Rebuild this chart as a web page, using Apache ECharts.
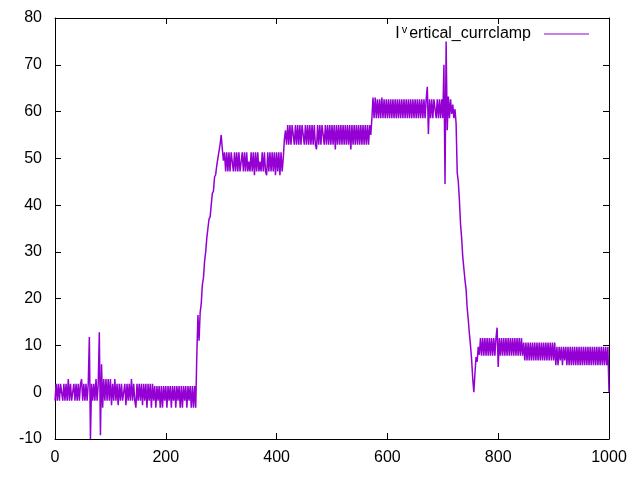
<!DOCTYPE html>
<html>
<head>
<meta charset="utf-8">
<script src="https://cdn.jsdelivr.net/npm/echarts@6/dist/echarts.min.js"></script>
<style>
html,body{margin:0;padding:0;background:#fff;}
#chart{width:640px;height:480px;}
</style>
</head>
<body>
<div id="chart"></div>
<script>
// Sample spacing along x (each value below is one sample)
const sampleStep = 2;
const seriesName = 'I^vertical_currclamp';
const xTicks = [0, 200, 400, 600, 800, 1000];
const yTicks = [-10, 0, 10, 20, 30, 40, 50, 60, 70, 80];

// x = 0 .. 254
const baseline = [
  -1.8, 1.8, -1.8, 1.8, -1.8, 1.8, 1.8, -1.8, 1.8, -1.8,
  1.8, -1.8, 2.8, -1.8, 1.8, -1.8, -1.8, 1.8, -1.8, 1.8,
  -1.8, 1.8, -1.8, 1.8, 2.8, -1.8, 1.8, -1.8, 1.8, -1.8,
  1.8, 11.8, -10, 1.8, -1.8, 1.8, -1.8, 2.8, -1.8, 1.8,
  12.8, -9.2, 6, -3.3, 2.8, -1.8, 2.8, -1.8, 2.8, -1.8,
  2.8, -2.8, 1.8, -1.8, 2.8, -1.8, 1.8, -2.8, 1.8, -1.8,
  1.8, -1.8, -1.8, 1.8, -2.8, 1.8, -1.8, 1.8, -1.8, 2.8,
  -1.8, 1.8, -1.8, -3.3, 1.8, -1.8, 1.8, -1.8, 1.8, -2.8,
  1.8, -1.8, 1.8, -3.3, 1.8, -1.8, 1.8, -3.3, 1.8, -1.8,
  1.3, -3.3, 1.3, -1.8, 1.3, -3.3, 1.3, -3.3, 1.3, -1.8,
  1.3, -3.3, 1.3, -1.8, 1.3, -3.3, 1.3, -1.8, 1.3, -3.3,
  1.3, -1.8, 1.3, -3.3, 1.3, -3.3, 1.3, -1.8, 1.3, -3.3,
  1.3, -1.8, 1.3, -3.3, 1.3, -3.3, 1.3, -3.3
];
// x = 256 .. 304
const rise = [
  8, 16.5, 11, 17, 19, 23, 24.5, 28, 30, 33,
  35, 37, 37.5, 40, 42.5, 43, 46, 46.5, 48.5, 50,
  51.5, 53, 55, 52, 49.5
];
// x = 306 .. 410
const plateau1 = [
  51.3, 47.2, 51.3, 47.2, 51.3, 47.2, 51.3, 51.3, 47.2, 51.3,
  47.2, 51.3, 47.2, 51.3, 47.2, 47.2, 51.3, 47.2, 51.3, 47.2,
  51.3, 47.2, 49.3, 47.2, 51.3, 47.2, 51.3, 46.4, 51.3, 47.2,
  51.3, 47.2, 49.3, 47.2, 51.3, 47.2, 51.3, 47.2, 46.4, 51.3,
  47.2, 51.3, 47.2, 51.3, 47.2, 51.3, 46.4, 51.3, 47.2, 51.3,
  46.4, 51.3, 47.2
];
// x = 412 .. 570
const plateau2 = [
  50, 54, 56, 52.9, 57.1, 52.9, 57.1, 52.9, 57.1, 55,
  52.9, 57.1, 52.9, 57.1, 52.9, 57.1, 52.9, 57.1, 57.1, 52.9,
  57.1, 52.9, 57.1, 52.9, 57.1, 52.9, 57.1, 52.9, 57.1, 52.9,
  51.9, 57.1, 52.9, 57.1, 52.9, 57.1, 55, 52.9, 57.1, 52.9,
  57.1, 52.9, 57.1, 52.9, 57.1, 52.9, 57.1, 51.9, 57.1, 52.9,
  57.1, 52.9, 57.1, 52.9, 57.1, 52.9, 57.1, 52.9, 57.1, 52.9,
  57.1, 51.9, 57.1, 52.9, 57.1, 52.9, 57.1, 52.9, 57.1, 52.9,
  57.1, 52.9, 57.1, 52.9, 57.1, 52.9, 57.1, 52.9, 57.1, 55
];
// x = 572 .. 724
const plateau3 = [
  58.5, 63, 58.6, 63, 58.6, 62.6, 58.6, 62.6, 58.6, 63,
  58.6, 62.6, 58.6, 62.6, 58.6, 62.6, 58.6, 62.6, 58.6, 62.6,
  58.6, 62.6, 58.6, 62.6, 58.6, 62.6, 58.6, 62.6, 58.6, 62.6,
  58.6, 62.6, 58.6, 62.6, 58.6, 62.6, 58.6, 62.6, 58.6, 62.6,
  58.6, 62.6, 58.6, 62.6, 58.6, 62.6, 58.6, 62.6, 58.6, 62.6,
  65.3, 55.2, 62.6, 58.6, 62.6, 58.6, 62.6, 60.6, 58.6, 62.6,
  58.6, 62.6, 58.6, 62.6, 58.6, 70, 44.5, 75, 56, 63.2,
  58.6, 62.6, 59.5, 61.5, 58.6, 60.5, 57.5
];
// x = 726 .. 768
const fall = [
  47, 45, 41, 36, 33, 29, 26.5, 24, 22, 18,
  15.5, 12.5, 10, 7, 3, 0, 4, 7.5, 6.5, 9.7,
  8, 11.6
];
// x = 770 .. 1000
const tail = [
  7.8, 11.6, 7.8, 11.6, 7.8, 11.6, 7.8, 11.6, 7.8, 11.6,
  7.8, 11.6, 7.8, 11.6, 13.8, 5.4, 11.6, 7.8, 11.6, 7.8,
  11.6, 7.8, 11.6, 7.8, 11.6, 7.8, 11.6, 7.8, 11.6, 7.8,
  11.6, 7.8, 11.6, 7.8, 11.6, 7.8, 11.6, 7.8, 10.6, 6.8,
  10.6, 6.8, 10.6, 6.8, 10.6, 6.8, 10.6, 6.8, 10.6, 6.8,
  10.6, 6.8, 10.6, 6.8, 10.6, 6.8, 10.6, 6.8, 10.6, 6.8,
  10.6, 6.8, 10.6, 6.8, 10.6, 6.8, 10.6, 5.8, 9.7, 5.8,
  9.7, 6.8, 9.7, 5.8, 9.7, 6.8, 9.7, 5.8, 9.7, 5.8,
  9.7, 5.8, 9.7, 5.8, 9.7, 5.8, 9.7, 5.8, 9.7, 5.8,
  9.7, 5.8, 9.7, 5.8, 9.7, 5.8, 9.7, 5.8, 9.7, 5.8,
  9.7, 5.8, 9.7, 5.8, 9.7, 5.8, 9.7, 5.8, 9.7, 5.8,
  9.7, 5.8, 9.7, 5.8, 9.7, 0
];

const values = [].concat(baseline, rise, plateau1, plateau2, plateau3, fall, tail);
const points = values.map((v, i) => [i * sampleStep, v]);

const FONT = 'Liberation Sans, Arial, sans-serif';
const black = '#000';

function xAxisCfg(pos, showLabel) {
  return {
    type: 'value', position: pos,
    min: xTicks[0], max: xTicks[xTicks.length - 1], interval: xTicks[1] - xTicks[0],
    axisLine: { show: true, onZero: false, lineStyle: { color: black, width: 1 } },
    axisTick: { show: true, inside: true, length: 6, lineStyle: { color: black, width: 1 } },
    axisLabel: { show: showLabel, color: black, fontSize: 16, fontFamily: FONT, margin: 11,
      formatter: function (v) { return String(v); } },
    splitLine: { show: false }
  };
}
function yAxisCfg(pos, showLabel) {
  return {
    type: 'value', position: pos,
    min: yTicks[0], max: yTicks[yTicks.length - 1], interval: yTicks[1] - yTicks[0],
    axisLine: { show: true, onZero: false, lineStyle: { color: black, width: 1 } },
    axisTick: { show: true, inside: true, length: 6, lineStyle: { color: black, width: 1 } },
    axisLabel: { show: showLabel, color: black, fontSize: 16, fontFamily: FONT, margin: 13,
      formatter: function (v) { return String(v); } },
    splitLine: { show: false }
  };
}

const chart = echarts.init(document.getElementById('chart'), null, { renderer: 'canvas' });
chart.setOption({
  animation: false,
  backgroundColor: '#fff',
  grid: { left: 55, right: 31, top: 18, bottom: 41, containLabel: false },
  legend: {
    show: true,
    right: 46, top: 19,
    selectedMode: false,
    icon: 'rect',
    itemWidth: 45, itemHeight: 1,
    align: 'right',
    formatter: function () { return '{a|I}{s|v}{b|ertical_currclamp}'; },
    textStyle: {
      color: black, fontFamily: FONT, fontSize: 16,
      rich: {
        a: { fontSize: 16, fontFamily: FONT, color: black },
        s: { fontSize: 11, fontFamily: FONT, color: black, padding: [0, 2, 9, 2] },
        b: { fontSize: 16, fontFamily: FONT, color: black, padding: [0, 8, 0, 0] }
      }
    }
  },
  xAxis: [xAxisCfg('bottom', true), xAxisCfg('top', false)],
  yAxis: [yAxisCfg('left', true), yAxisCfg('right', false)],
  series: [{
    name: seriesName,
    type: 'line',
    xAxisIndex: 0, yAxisIndex: 0,
    data: points,
    showSymbol: false,
    symbol: 'none',
    clip: true,
    lineStyle: { color: '#9400d3', width: 1.5 },
    itemStyle: { color: '#9400d3' }
  }]
});
</script>
</body>
</html>
